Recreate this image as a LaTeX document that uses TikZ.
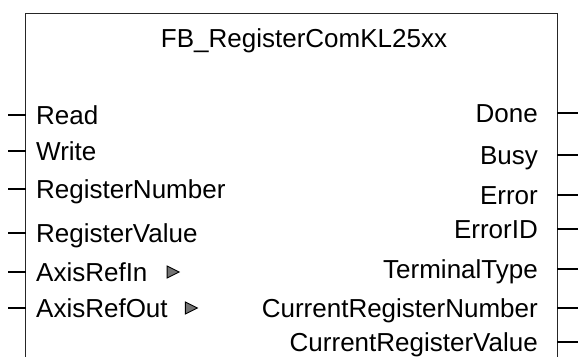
\documentclass[tikz,border=0pt]{standalone}
\usepackage{fontspec}
\setmainfont{Liberation Sans}
\usetikzlibrary{positioning,shapes.geometric}

\begin{document}
\begin{tikzpicture}[
    x=1pt, y=-1pt,
    font=\fontsize{26}{30}\selectfont,
    port/.style={inner sep=0pt, text height=18.6pt, text depth=0pt},
    inport/.style={port, anchor=west},
    outport/.style={port, anchor=east},
    wire/.style={line width=1.2pt, black},
    frame/.style={line width=1.3pt, black!85},
    reftri/.style={draw, isosceles triangle, isosceles triangle stretches,
        minimum width=12pt, minimum height=12pt, inner sep=0pt,
        fill=black!55, line width=0.9pt}
]
\useasboundingbox (0,0) rectangle (578,356);
\coordinate (boxnw) at (25.7,13.3);
\coordinate (boxne) at (557.3,13.3);
\draw[frame] (boxnw |- 0,360) -- (boxnw) -- (boxne) -- (boxne |- 0,360);
\node[port] (title) at (304,38) {FB\_RegisterComKL25xx};
% inputs
\foreach \name/\label/\yy in {
  read/Read/115, write/Write/151, regnum/RegisterNumber/189,
  regval/RegisterValue/233, axin/AxisRefIn/272, axout/AxisRefOut/308}{
    \node[inport] (\name) at (36,\yy) {\label};
    \coordinate (\name-end) at (8.3,\yy);
    \draw[wire] (\name-end) -- (\name.west -| boxnw);
}
\node[reftri, right=19pt of axin] (axintri) {};
\node[reftri, right=17pt of axout] (axouttri) {};
% outputs
\foreach \name/\label/\yy in {
  done/Done/113, busy/Busy/155, error/Error/195, errid/ErrorID/229,
  termtype/TerminalType/269, curnum/CurrentRegisterNumber/308,
  curval/CurrentRegisterValue/342}{
    \node[outport] (\name) at (538,\yy) {\label};
    \coordinate (\name-end) at (578,\yy);
    \draw[wire] (\name.east -| boxne) -- (\name-end);
}
\end{tikzpicture}
\end{document}
